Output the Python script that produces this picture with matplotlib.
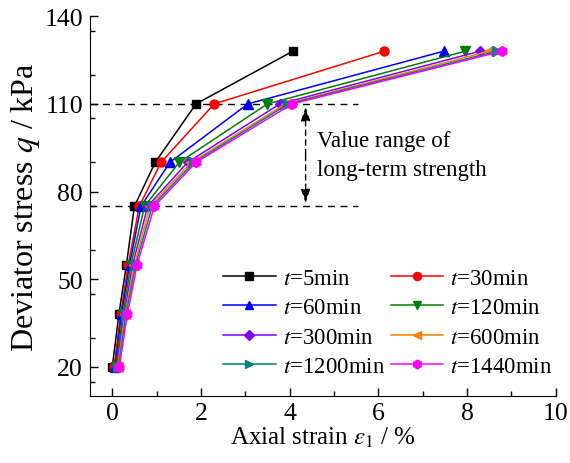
import matplotlib
matplotlib.use('Agg')
import matplotlib.pyplot as plt
from matplotlib.ticker import MultipleLocator

plt.rcParams['font.family'] = 'Liberation Serif'
plt.rcParams['mathtext.fontset'] = 'stix'

# deviator stress levels (kPa)
q = [20, 38, 55, 75, 90, 110, 128]

# axial strain (%) for each holding time
labels = ['5min', '30min', '60min', '120min', '300min', '600min', '1200min', '1440min']
eps_5 = [0.00, 0.15, 0.32, 0.50, 0.97, 1.89, 4.07]
eps_30 = [0.04, 0.19, 0.36, 0.61, 1.10, 2.30, 6.13]
eps_60 = [0.06, 0.21, 0.39, 0.65, 1.30, 3.06, 7.47]
eps_120 = [0.08, 0.24, 0.42, 0.73, 1.51, 3.50, 7.96]
eps_300 = [0.10, 0.27, 0.46, 0.80, 1.70, 3.78, 8.29]
eps_600 = [0.12, 0.29, 0.50, 0.85, 1.78, 3.91, 8.50]
eps_1200 = [0.14, 0.31, 0.53, 0.90, 1.84, 3.97, 8.67]
eps_1440 = [0.16, 0.34, 0.56, 0.95, 1.89, 4.06, 8.78]
series = [eps_5, eps_30, eps_60, eps_120, eps_300, eps_600, eps_1200, eps_1440]

colors = ['black', 'red', 'blue', 'green', '#8000ff', '#ff8000', '#008080', '#ff00ff']
markers = ['s', 'o', '^', 'v', 'D', '<', '>', 'h']
msizes = [6, 6.5, 6.5, 6.5, 5.5, 6.5, 6.5, 7]

# long-term strength range
q_low, q_high = 75, 110

fig = plt.figure(figsize=(5.7, 4.64), dpi=100)
ax = fig.add_axes([0.158, 0.144, 0.817, 0.819])

lines = []
for eps, lab, c, m, ms in zip(series, labels, colors, markers, msizes):
    ln, = ax.plot(eps, q, color=c, marker=m, markersize=ms, lw=1.1,
                  label=r'$t$=' + lab)
    lines.append(ln)

ax.plot([-0.5, 5.55], [q_high, q_high], color='black', lw=1, dashes=(5, 4), zorder=0)
ax.plot([-0.5, 5.55], [q_low, q_low], color='black', lw=1, dashes=(5, 4), zorder=0)

x_arr = 4.36
mid = (q_low + q_high) / 2
for end in (q_high - 1, q_low + 1):
    ax.annotate('', xy=(x_arr, end), xytext=(x_arr, mid),
                arrowprops=dict(arrowstyle='-|>,head_length=0.6,head_width=0.2',
                                color='black', lw=1,
                                linestyle=(0, (4, 3)), mutation_scale=14,
                                shrinkA=0, shrinkB=0))
ax.text(4.62, 92.5, 'Value range of\nlong-term strength', fontsize=16.5,
        va='center', ha='left', linespacing=1.45)

ax.set_xlim(-0.5, 10)
ax.set_ylim(10, 140)
ax.xaxis.set_major_locator(MultipleLocator(2))
ax.xaxis.set_minor_locator(MultipleLocator(1))
ax.set_yticks([20, 50, 80, 110, 140])
ax.yaxis.set_minor_locator(MultipleLocator(15))
ax.tick_params(which='both', direction='in', labelsize=18.5, width=1)
ax.tick_params(which='major', length=6)
ax.tick_params(which='minor', length=3.5)
ax.tick_params(axis='x', pad=4)
ax.tick_params(axis='y', pad=5)
ax.spines['top'].set_visible(False)
ax.spines['right'].set_visible(False)

ax.set_xlabel(r'Axial strain $\varepsilon_1$ / %', fontsize=18, labelpad=1)
ax.set_ylabel(r'Deviator stress $q$ / kPa', fontsize=23, labelpad=2)

# row-wise legend order: column 1 then column 2
order = [0, 2, 4, 6, 1, 3, 5, 7]
ax.legend([lines[i] for i in order], [lines[i].get_label() for i in order],
          ncol=2, loc='upper left', bbox_to_anchor=(223 / 570, 1 - 269 / 464),
          bbox_transform=fig.transFigure, frameon=False, borderpad=0,
          borderaxespad=0, fontsize=16.5, handlelength=2.3, handletextpad=0.3,
          columnspacing=0.25, labelspacing=0.36, markerscale=0.9)

fig.savefig('out.png', dpi=100)
